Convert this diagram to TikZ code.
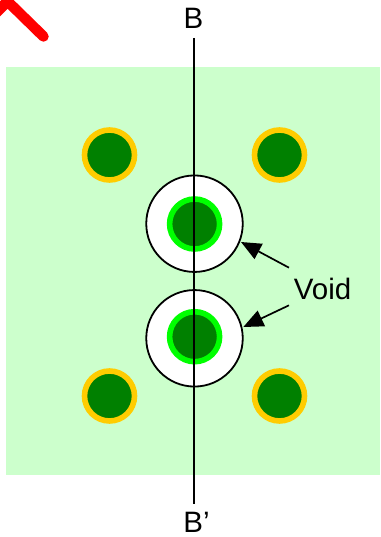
\documentclass[tikz,border=0pt]{standalone}
\usepackage{fontspec}
\setmainfont{Liberation Sans}
\usetikzlibrary{arrows.meta}
\definecolor{panelgreen}{HTML}{CCFFCC}
\definecolor{padgreen}{HTML}{008000}
\definecolor{ringgold}{HTML}{FFCC00}
\definecolor{ringlime}{HTML}{00FF00}
\definecolor{markred}{HTML}{FF0000}
\tikzset{
  pad/.style={circle,inner sep=0pt,minimum size=50pt,fill=padgreen,draw=#1,line width=5.6pt},
  voidhole/.style={circle,draw=black,fill=white,line width=1.8pt,inner sep=0pt,minimum size=96.5pt},
  lbl/.style={inner sep=0pt,font=\fontsize{29.5}{34}\selectfont,text=black},
  cutline/.style={draw=black,line width=2pt},
  leader/.style={draw=black,line width=1.7pt,-{Triangle[length=20pt,width=17pt]}},
  redmark/.style={draw=markred,line width=10.5pt,line cap=round,line join=miter}
}
\begin{document}
\begin{tikzpicture}[x=1pt,y=-1pt]
\useasboundingbox (0,0) rectangle (380,537);
\fill[white] (0,0) rectangle (380,537);
\begin{scope}
\clip (0,0) rectangle (380,537);
\draw[redmark] (-16,25) -- (7.5,1.3) -- (43.5,36.5);
\end{scope}
\fill[panelgreen] (6,67) rectangle (380,475);
\node[pad=ringgold] (p1) at (109.5,155) {};
\node[pad=ringgold] (p2) at (279.5,155) {};
\node[pad=ringgold] (p3) at (109.5,396) {};
\node[pad=ringgold] (p4) at (279.5,396) {};
\node[voidhole] (v1) at (194.5,223.7) {};
\node[voidhole] (v2) at (194.5,338.3) {};
\node[pad=ringlime] (c1) at (194.6,224) {};
\node[pad=ringlime] (c2) at (194.6,336.7) {};
\node[lbl] (bt) at (193.5,18) {B};
\node[lbl] (bb) at (196.5,522.8) {B’};
\node[lbl] (vt) at (322.5,288.5) {Void};
\coordinate (lt) at (193.5,38);
\coordinate (lb) at (193.5,504);
\draw[cutline] (lt) -- (lb);
\coordinate (a1s) at (289,267.7);
\coordinate (a1e) at (241,242);
\coordinate (a2s) at (289,305.3);
\coordinate (a2e) at (243.3,327);
\draw[leader] (a1s) -- (a1e);
\draw[leader] (a2s) -- (a2e);
\end{tikzpicture}
\end{document}
